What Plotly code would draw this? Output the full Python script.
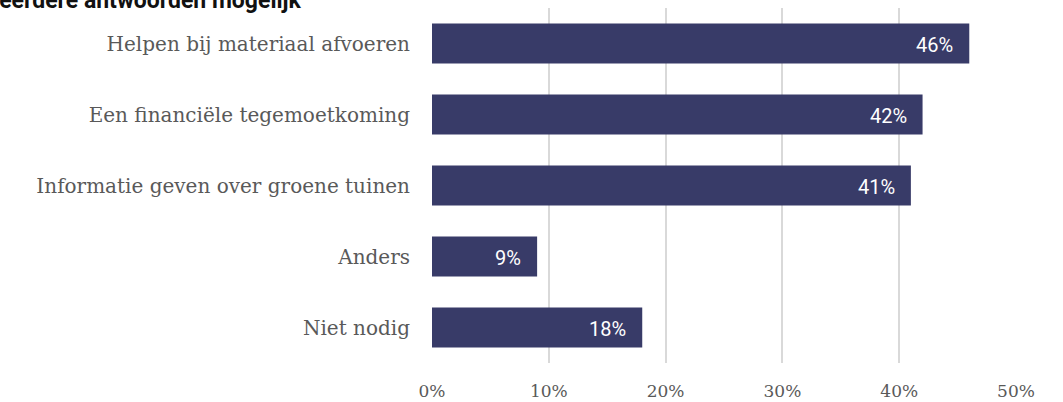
import plotly.graph_objects as go

# Survey answers (multiple answers possible), share of respondents in %
categories = [
    "Helpen bij materiaal afvoeren",
    "Een financiële tegemoetkoming",
    "Informatie geven over groene tuinen",
    "Anders",
    "Niet nodig",
]
values = [46, 42, 41, 9, 18]
tick_values = [0, 10, 20, 30, 40, 50]
tick_labels = ["0%", "10%", "20%", "30%", "40%", "50%"]
title_text = "Meerdere antwoorden mogelijk"

BAR_COLOR = "#383b68"
LABEL_GRAY = "#595959"

fig = go.Figure(
    go.Bar(
        x=values,
        y=categories,
        orientation="h",
        marker=dict(color=BAR_COLOR, line=dict(width=0)),
        width=0.56,
        hoverinfo="skip",
    )
)

# value labels inside the bar ends
for cat, val in zip(categories, values):
    fig.add_annotation(
        x=val, y=cat, xref="x", yref="y",
        text=f"{val}%", showarrow=False,
        xanchor="right", xshift=-14, yshift=-1,
        font=dict(family="Roboto", size=20, color="white"),
    )

# chart subtitle, running off the top-left corner
fig.add_annotation(
    x=-0.779, y=0.977, xref="paper", yref="paper",
    text=f"<b>{title_text}</b>", showarrow=False,
    xanchor="left", yanchor="bottom",
    font=dict(family="Roboto", size=23, color="#111111"),
)

fig.update_layout(
    width=1063,
    height=402,
    margin=dict(l=432, r=47, t=8, b=39),
    paper_bgcolor="white",
    plot_bgcolor="white",
    showlegend=False,
    bargap=0.44,
    xaxis=dict(
        range=[0, 50],
        tickvals=tick_values,
        ticktext=tick_labels,
        showgrid=True,
        gridcolor="#d9d9d9",
        gridwidth=2,
        zeroline=False,
        showline=False,
        ticks="outside",
        ticklen=13,
        tickcolor="rgba(0,0,0,0)",
        tickfont=dict(family="DejaVu Serif", size=17, color=LABEL_GRAY),
        automargin=False,
        fixedrange=True,
    ),
    yaxis=dict(
        categoryorder="array",
        categoryarray=categories[::-1],
        showgrid=False,
        zeroline=False,
        showline=False,
        ticks="outside",
        ticklen=17,
        tickcolor="rgba(0,0,0,0)",
        tickfont=dict(family="DejaVu Serif", size=20, color=LABEL_GRAY),
        automargin=False,
        fixedrange=True,
    ),
)

fig.write_html("out.html")
